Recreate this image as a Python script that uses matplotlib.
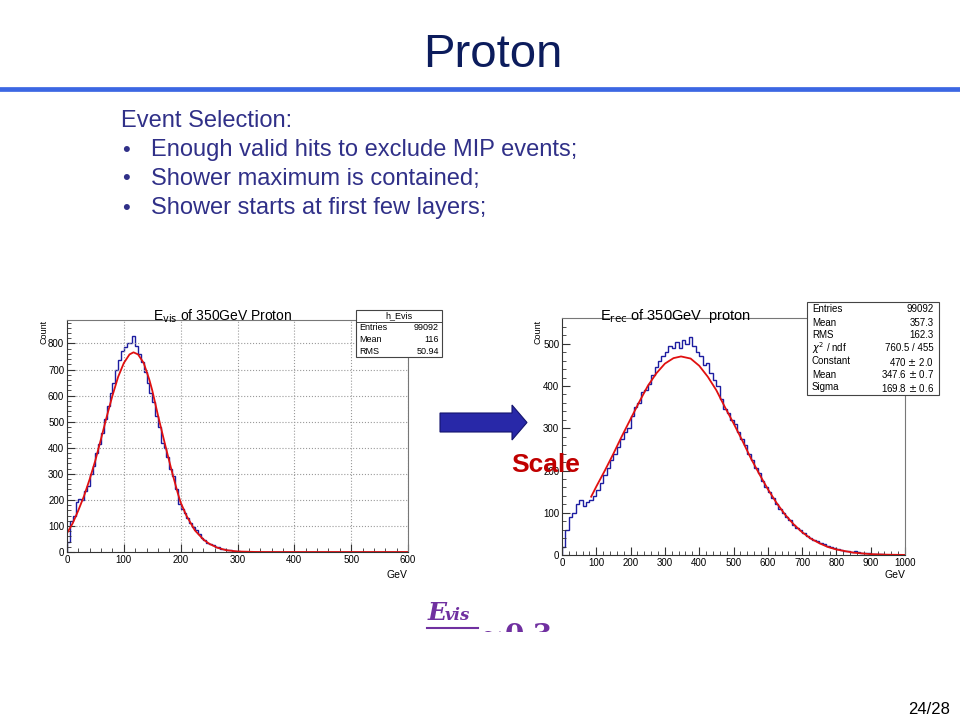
import matplotlib.pyplot as plt
import numpy as np
from matplotlib.patches import Rectangle, FancyArrow
from matplotlib.lines import Line2D

plt.rcParams['font.family'] = ['Liberation Sans', 'DejaVu Sans']

# ---- data ----
# left: E_vis histogram, 5 GeV bins from 0
evis_counts = [40, 120, 140, 190, 205, 200, 235, 255, 300, 330,
               380, 415, 455, 510, 560, 610, 650, 700, 735, 770,
               785, 800, 800, 830, 790, 760, 730, 690, 650, 610,
               575, 520, 480, 420, 400, 365, 320, 290, 240, 185,
               165, 150, 130, 110, 95, 85, 70, 55, 45, 35,
               30, 25, 20, 18, 12, 10, 8, 6, 5, 3, 2]
evis_fit_x = [0, 10, 20, 30, 40, 50, 60, 70, 80, 90, 100, 110, 117, 125, 135, 145,
              150, 160, 170, 175, 185, 195, 200, 210, 225, 240, 250, 265, 280, 300,
              330, 350, 600]
evis_fit_y = [72, 110, 160, 215, 280, 352, 435, 520, 600, 672, 725, 758, 766, 758, 725, 660,
              620, 525, 435, 391, 305, 225, 190, 140, 83, 48, 32, 16, 7, 2,
              0.3, 0, 0]
evis_stats = [("Entries", "99092"), ("Mean", "116"), ("RMS", "50.94")]

# right: E_rec histogram, 10 GeV bins from 0
erec_counts = [20, 60, 90, 100, 120, 130, 115, 125, 130, 140,
               155, 170, 190, 205, 225, 240, 255, 275, 290, 300,
               330, 350, 360, 385, 390, 405, 425, 445, 460, 470,
               480, 495, 490, 505, 490, 510, 500, 515, 495, 480,
               470, 450, 455, 430, 415, 400, 370, 345, 335, 320,
               310, 290, 275, 260, 240, 225, 205, 195, 175, 160,
               150, 135, 120, 110, 100, 90, 82, 72, 65, 58,
               52, 45, 40, 35, 32, 28, 25, 22, 18, 16,
               14, 12, 10, 9, 8, 10, 6, 5, 5, 4,
               3, 3, 2, 2, 1, 1, 1, 0, 1, 0]
erec_fit_x = [85, 100, 125, 150, 175, 200, 225, 250, 275, 300, 325, 347, 375, 400, 425, 450,
              475, 500, 525, 550, 575, 600, 625, 650, 675, 700, 725, 750, 775, 800, 850,
              900, 950, 1000]
erec_fit_y = [138, 162, 200, 240, 282, 322, 362, 400, 430, 453, 466, 470, 465, 448, 422, 390,
              350, 312, 272, 230, 192, 156, 124, 96, 73, 54, 39, 28, 19, 13, 5.5,
              2, 0.7, 0.2]
erec_stats = [("Entries", "99092"), ("Mean", "357.3"), ("RMS", "162.3"),
              (r"$\chi^2$ / ndf", "760.5 / 455"), ("Constant", r"470 $\pm$ 2.0"),
              ("Mean", r"347.6 $\pm$ 0.7"), ("Sigma", r"169.8 $\pm$ 0.6")]

bullets = ["Enough valid hits to exclude MIP events;",
           "Shower maximum is contained;",
           "Shower starts at first few layers;"]

W, H = 960, 720
fig = plt.figure(figsize=(9.6, 7.2), dpi=100)


def fx(px):
    return px / W


def fy(py):
    return 1 - py / H


# ---- slide header ----
fig.text(fx(493), fy(55), "Proton", fontsize=34, color='#0c1c5c', ha='center', va='center')
fig.add_artist(Line2D([0, 1], [fy(89), fy(89)], color='#3c67e3', lw=3.4))

text_col = '#303088'
fig.text(fx(121), fy(121), "Event Selection:", fontsize=17, color=text_col, va='center')
for i, b in enumerate(bullets):
    yy = fy(150 + 29 * i)
    fig.text(fx(122), yy, "\u2022", fontsize=16, color=text_col, va='center')
    fig.text(fx(151), yy, b, fontsize=17, color=text_col, va='center')


def root_axes(rect, xmax, ymax, xmajor, ymajor, grid):
    ax = fig.add_axes(rect)
    ax.set_xlim(0, xmax)
    ax.set_ylim(0, ymax)
    ax.set_xticks(np.arange(0, xmax + 1, xmajor))
    ax.set_yticks(np.arange(0, ymax, ymajor))
    ax.set_xticks(np.arange(0, xmax + 1, 20), minor=True)
    ax.set_yticks(np.arange(0, ymax, 20), minor=True)
    ax.tick_params(which='both', direction='in', top=False, right=False,
                   labelsize=7, pad=2, color='#333333')
    ax.tick_params(which='major', length=6)
    ax.tick_params(which='minor', length=3)
    for s in ax.spines.values():
        s.set_color('#777777')
        s.set_linewidth(0.8)
    ax.spines['left'].set_color('#333333')
    ax.spines['bottom'].set_color('#333333')
    if grid:
        ax.grid(True, which='major', ls=':', color='#9a9a9a', lw=0.8)
    return ax


# ---- left histogram ----
axl = root_axes([fx(67), fy(552), fx(408) - fx(67), fy(320) - fy(552)],
                600, 890, 100, 100, True)
edges_l = np.arange(len(evis_counts) + 1) * 5.0
axl.stairs(evis_counts, edges_l, color='#1c1ca0', lw=1.0)
axl.plot([edges_l[-1], 600], [0, 0], color='#1c1ca0', lw=1.0)
axl.plot(evis_fit_x, evis_fit_y, color='#e01010', lw=1.3)
fig.text(fx(223), fy(316), r"E$_{\rm vis}$ of 350GeV Proton", fontsize=10, ha='center', va='center')
fig.text(fx(44), fy(320), "Count", fontsize=6.5, rotation=90, ha='center', va='top')
fig.text(fx(407), fy(575), "GeV", fontsize=7.5, ha='right', va='center')

# stats box left
bx0, bx1, by0, by1 = 356, 442, 310, 357
fig.add_artist(Rectangle((fx(bx0), fy(by1)), fx(bx1 - bx0), (by1 - by0) / H,
                         transform=fig.transFigure, facecolor='white', edgecolor='#444444', lw=0.8))
fig.text(fx((bx0 + bx1) / 2), fy(316), "h_Evis", fontsize=6.5, ha='center', va='center')
fig.add_artist(Line2D([fx(bx0), fx(bx1)], [fy(322), fy(322)], color='#444444', lw=0.7))
for i, (k, v) in enumerate(evis_stats):
    yy = fy(328 + 11.5 * i)
    fig.text(fx(bx0 + 3), yy, k, fontsize=6.5, va='center')
    fig.text(fx(bx1 - 3), yy, v, fontsize=6.5, va='center', ha='right')

# ---- right histogram ----
axr = root_axes([fx(562), fy(555), fx(905) - fx(562), fy(318) - fy(555)],
                1000, 561, 100, 100, False)
edges_r = np.arange(len(erec_counts) + 1) * 10.0
axr.stairs(erec_counts, edges_r, color='#1c1ca0', lw=1.0)
axr.plot(erec_fit_x, erec_fit_y, color='#e01010', lw=1.3)
fig.text(fx(676), fy(316), r"E$_{\rm rec}$ of 350GeV  proton", fontsize=10.5, ha='center', va='center')
fig.text(fx(538), fy(320), "Count", fontsize=6.5, rotation=90, ha='center', va='top')
fig.text(fx(905), fy(575), "GeV", fontsize=7.5, ha='right', va='center')

bx0, bx1, by0, by1 = 807, 939, 302, 395
fig.add_artist(Rectangle((fx(bx0), fy(by1)), fx(bx1 - bx0), (by1 - by0) / H,
                         transform=fig.transFigure, facecolor='white', edgecolor='#444444', lw=0.8))
for i, (k, v) in enumerate(erec_stats):
    yy = fy(309.5 + 13 * i)
    fig.text(fx(bx0 + 5), yy, k, fontsize=7, va='center')
    fig.text(fx(bx1 - 5), yy, v, fontsize=7, va='center', ha='right')

# ---- arrow and labels ----
fig.add_artist(FancyArrow(fx(440), fy(422.5), fx(87), 0, width=19 / H, head_width=35 / H,
                          head_length=fx(15), length_includes_head=True,
                          transform=fig.transFigure, facecolor='#2828a8', edgecolor='#14146e', lw=0.8))
fig.text(fx(511), fy(465), "Scale", fontsize=19, fontweight='bold', color='#c00000', va='center')

# ---- cut-off formula at the bottom ----
purple = '#7030a0'
fig.text(fx(428), fy(620), "E", fontsize=18, fontweight='bold', fontstyle='italic',
         family='DejaVu Serif', color=purple, va='baseline')
fig.text(fx(445), fy(620), "vis", fontsize=12, fontweight='bold', fontstyle='italic',
         family='DejaVu Serif', color=purple, va='baseline')
fig.add_artist(Line2D([fx(427), fx(478)], [fy(628), fy(628)], color=purple, lw=1.5))
fig.text(fx(480), fy(642), "~", fontsize=20, fontweight='bold', family='DejaVu Serif',
         color=purple, va='baseline')
fig.text(fx(505), fy(644), "0.3", fontsize=20, fontweight='bold', family='DejaVu Serif',
         color=purple, va='baseline')
fig.add_artist(Rectangle((fx(420), fy(700)), fx(140), (700 - 632) / H,
                         transform=fig.transFigure, facecolor='white', edgecolor='none', zorder=20))

fig.text(fx(950), fy(710), "24/28", fontsize=12, ha='right', va='center')

fig.savefig("out.png", dpi=100)
